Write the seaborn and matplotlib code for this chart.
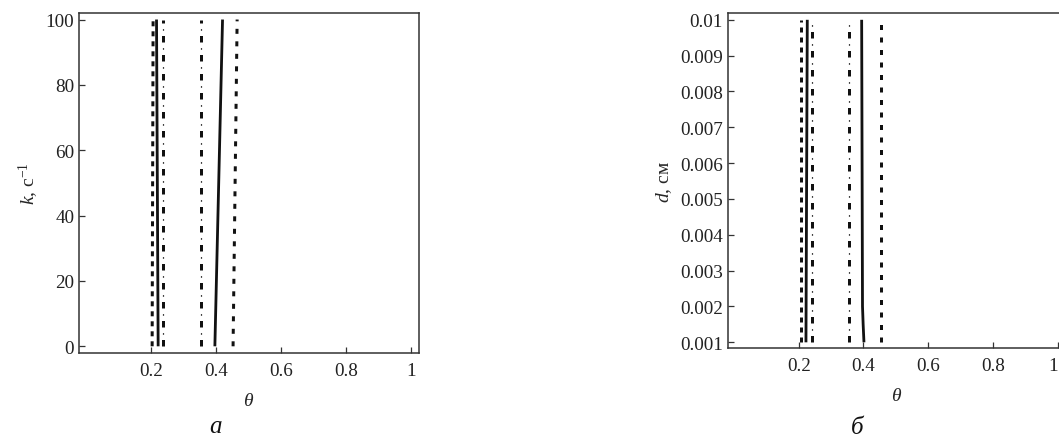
import numpy as np
import pandas as pd
import matplotlib
matplotlib.use("Agg")
import matplotlib.pyplot as plt
import seaborn as sns

# ---------------- data ----------------
theta_ticks = [0.2, 0.4, 0.6, 0.8, 1.0]
theta_tick_labels = ["0.2", "0.4", "0.6", "0.8", "1"]

# panel a: k, c^-1
k_ticks = [0, 20, 40, 60, 80, 100]
k_tick_labels = ["0", "20", "40", "60", "80", "100"]
k_y = [0, 100]
k_dense_dash = [0.204, 0.207]
k_solid_1 = [0.2225, 0.2175]
k_dashdot_1 = [0.238, 0.238]
k_dashdot_2 = [0.354, 0.354]
k_solid_2 = [0.397, 0.4206]
k_dash_2 = [0.453, 0.4655]

# panel b: d, cm
d_ticks = [0.001, 0.002, 0.003, 0.004, 0.005, 0.006, 0.007, 0.008, 0.009, 0.01]
d_tick_labels = ["0.001", "0.002", "0.003", "0.004", "0.005",
                 "0.006", "0.007", "0.008", "0.009", "0.01"]
d_y = [0.001, 0.01]
d_dense_dash = [0.207, 0.207]
d_solid_1 = [0.2225, 0.2266]
d_dashdot_1 = [0.240, 0.240]
d_dashdot_2 = [0.356, 0.356]
d_solid_2_y = [0.001, 0.0015, 0.002, 0.01]
d_solid_2 = [0.4015, 0.399, 0.397, 0.3944]
d_dash_2 = [0.453, 0.453]

# ---------------- style ----------------
sns.set_theme(style="white")
plt.rcParams["font.family"] = ["Liberation Serif", "DejaVu Serif"]
plt.rcParams["mathtext.fontset"] = "custom"
plt.rcParams["mathtext.rm"] = "Liberation Serif"
plt.rcParams["mathtext.it"] = "Liberation Serif:italic"
plt.rcParams["lines.scale_dashes"] = False
plt.rcParams["lines.solid_capstyle"] = "butt"
plt.rcParams["lines.dash_capstyle"] = "butt"

PX = 0.72  # points per pixel at dpi 100
LW_THICK = 3.0 * PX
LW_SOLID = 2.8 * PX
LW_THIN = 1.2 * PX
COL = "#111111"

fig = plt.figure(figsize=(10.59, 4.39), dpi=100)
H = 439.0
W = 1059.0
ax1 = fig.add_axes([79 / W, 1 - 354 / H, (419 - 79) / W, (354 - 14) / H])
ax2 = fig.add_axes([727.7 / W, 1 - 349.3 / H, (1066 - 727.7) / W, (349.3 - 14) / H])


def draw(ax, x, y, kind):
    df = pd.DataFrame({"x": x, "y": y})
    common = dict(data=df, x="x", y="y", sort=False, estimator=None, ax=ax,
                  color=COL, legend=False)
    if kind == "solid":
        sns.lineplot(**common, linewidth=LW_SOLID, linestyle="-")
    elif kind == "dense":
        sns.lineplot(**common, linewidth=LW_THICK,
                     linestyle=(0, (5 * PX, 5 * PX)))
    elif kind == "dash":
        sns.lineplot(**common, linewidth=LW_THICK,
                     linestyle=(0, (5 * PX, 7.5 * PX)))
    elif kind == "dashdot":
        sns.lineplot(**common, linewidth=LW_THICK,
                     linestyle=(0, (6.5 * PX, 12.5 * PX)))
        sns.lineplot(**common, linewidth=LW_THIN,
                     linestyle=(7.2 * PX, (1.5 * PX, 17.5 * PX)))


# panel a
draw(ax1, k_dense_dash, k_y, "dense")
draw(ax1, k_solid_1, k_y, "solid")
draw(ax1, k_dashdot_1, k_y, "dashdot")
draw(ax1, k_dashdot_2, k_y, "dashdot")
draw(ax1, k_solid_2, k_y, "solid")
draw(ax1, k_dash_2, k_y, "dash")

# panel b
draw(ax2, d_dense_dash, d_y, "dense")
draw(ax2, d_solid_1, d_y, "solid")
draw(ax2, d_dashdot_1, d_y, "dashdot")
draw(ax2, d_dashdot_2, d_y, "dashdot")
draw(ax2, d_solid_2, d_solid_2_y, "solid")
draw(ax2, d_dash_2, d_y, "dash")

ax1.set_xlim(-0.021, 1.025)
ax1.set_ylim(-2.05, 102.0)
ax2.set_xlim(-0.019, 1.025)
ax2.set_ylim(0.000833, 0.01019)

for ax, yt, ytl in [(ax1, k_ticks, k_tick_labels), (ax2, d_ticks, d_tick_labels)]:
    ax.set_xticks(theta_ticks)
    ax.set_xticklabels(theta_tick_labels)
    ax.set_yticks(yt)
    ax.set_yticklabels(ytl)
    ax.tick_params(axis="both", which="major", direction="in", length=4.5,
                   width=0.9, color="#333333", labelsize=13.8,
                   labelcolor="#222222", top=False, right=False,
                   bottom=True, left=True)
    ax.tick_params(axis="x", pad=6.5)
    ax.tick_params(axis="y", pad=3.5)
    for s in ax.spines.values():
        s.set_visible(True)
        s.set_color("#333333")
        s.set_linewidth(1.1)
    ax.set_xlabel(r"$\theta$", fontsize=14, labelpad=9)
    ax.grid(False)

# keep the last tick label of panel b inside the picture
ax2.get_xticklabels()[-1].set_horizontalalignment("right")

ax1.set_ylabel(r"$k$, c$^{-1}$", fontsize=14, labelpad=3)
ax2.set_ylabel(r"$d$, см", fontsize=14, labelpad=4)

fig.text(215 / W, 1 - 427 / H, "а", fontsize=18, style="italic",
         ha="center", va="center", color="#111111")
fig.text(857 / W, 1 - 428 / H, "б", fontsize=18, style="italic",
         ha="center", va="center", color="#111111")

fig.savefig("out.png", dpi=100, facecolor="white")
